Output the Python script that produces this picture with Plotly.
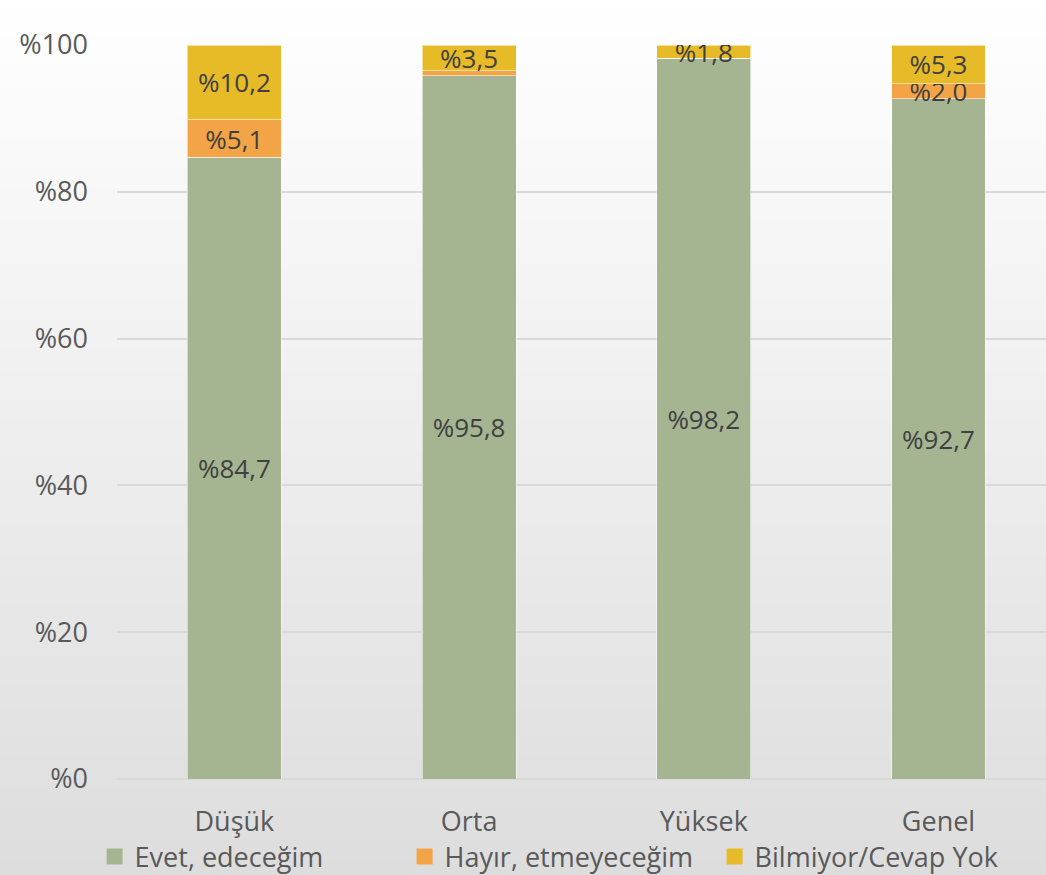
import plotly.graph_objects as go

# Survey groups and answer shares (percent)
categories = ["Düşük", "Orta", "Yüksek", "Genel"]
evet = [84.7, 95.8, 98.2, 92.7]
hayir = [5.1, 0.7, 0.0, 2.0]
bilmiyor = [10.2, 3.5, 1.8, 5.3]
hayir_labeled = [True, False, False, True]

series_names = ["Evet, edeceğim", "Hayır, etmeyeceğim", "Bilmiyor/Cevap Yok"]
colors = ["#A5B592", "#F3A447", "#E7BA28"]
y_ticks = [0, 20, 40, 60, 80, 100]
y_tick_text = ["%" + str(v) for v in y_ticks]

FONT = "Open Sans"
W, H = 1046, 875
ML, MR, MT, MB = 117, 0, 45, 96


def fmt(v):
    return "%" + f"{v:.1f}".replace(".", ",")


fig = go.Figure()
series = [evet, hayir, bilmiyor]
for i, (name, vals, col) in enumerate(zip(series_names, series, colors)):
    if i == 1:
        texts = [fmt(v) if show else "" for v, show in zip(vals, hayir_labeled)]
    else:
        texts = [fmt(v) for v in vals]
    fig.add_trace(go.Bar(
        x=categories, y=vals, name=name, showlegend=False,
        marker=dict(color=col, line=dict(color="rgba(255,255,255,0.55)", width=1)),
        width=0.4,
        text=texts, textposition="inside", insidetextanchor="middle",
        textfont=dict(family=FONT, size=26, color="#404040"),
        textangle=0, hoverinfo="skip",
    ))

# Legend entries with square swatches
for name, col in zip(series_names, colors):
    fig.add_trace(go.Scatter(
        x=[None], y=[None], mode="markers", name=name,
        marker=dict(symbol="square", size=18, color=col),
        hoverinfo="skip",
    ))

# Vertical white-to-grey gradient behind the whole figure
pw = W - ML - MR
ph = H - MT - MB
x0p, x1p = -ML / pw, 1 + MR / pw
ytop, ybot = 1 + MT / ph, -MB / ph
n = 120
shapes = []
for k in range(n):
    t = (k + 0.5) / n
    g = round(255 - (255 - 221) * t)
    ya = ytop - (ytop - ybot) * k / n
    yb = ytop - (ytop - ybot) * (k + 1) / n
    shapes.append(dict(type="rect", xref="paper", yref="paper",
                       x0=x0p, x1=x1p, y0=yb, y1=ya + 0.001,
                       fillcolor=f"rgb({g},{g},{g})", line=dict(width=0),
                       layer="below"))

fig.update_layout(
    width=W, height=H,
    margin=dict(l=ML, r=MR, t=MT, b=MB, autoexpand=False),
    barmode="stack",
    paper_bgcolor="white", plot_bgcolor="rgba(0,0,0,0)",
    shapes=shapes,
    font=dict(family=FONT, color="#595959"),
    uniformtext=dict(minsize=26, mode="show"),
    showlegend=True,
    legend=dict(orientation="h", xref="container", yref="container",
                x=0.535, xanchor="center", y=18 / H, yanchor="middle",
                font=dict(family=FONT, size=27, color="#595959"),
                itemclick=False, itemdoubleclick=False,
                bgcolor="rgba(0,0,0,0)", itemwidth=30,
                entrywidth=265, entrywidthmode="pixels",
                traceorder="normal"),
    xaxis=dict(range=[-0.5, 3.458], showgrid=False, zeroline=False,
               showline=False, ticks="", ticklabelstandoff=24,
               tickfont=dict(family=FONT, size=27, color="#595959")),
    yaxis=dict(range=[0, 100], tickvals=y_ticks, ticktext=y_tick_text,
               showgrid=True, gridcolor="#D9D9D9", gridwidth=2,
               zeroline=True, zerolinecolor="#D9D9D9", zerolinewidth=2,
               showline=False, ticks="", ticklabelstandoff=28,
               tickfont=dict(family=FONT, size=27, color="#595959")),
)

fig.write_html("out.html")
